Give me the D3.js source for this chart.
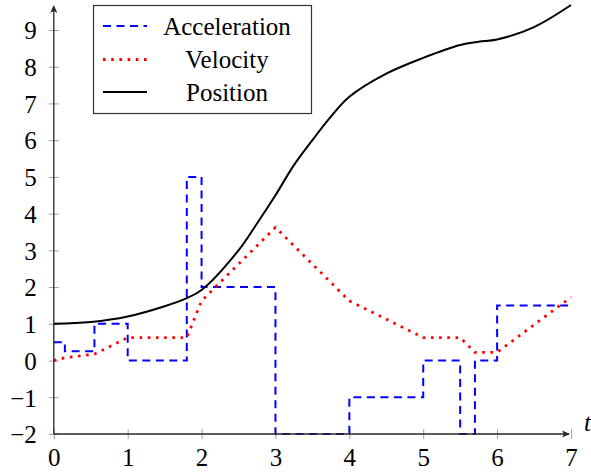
<!DOCTYPE html>
<html>
<head>
<meta charset="utf-8">
<script src="https://cdn.jsdelivr.net/npm/d3@7"></script>
<style>
  body { margin: 0; background: #fff; }
  svg { display: block; }
  svg text { font-family: 'Liberation Serif', 'DejaVu Serif', serif; }
</style>
</head>
<body>
<div class="chart"></div>
<script>
// acceleration: piecewise constant, value holds from t[i] to t[i+1]
const accT = [0, 0.15, 0.55, 1, 1.8, 2, 3, 4, 5, 5.5, 5.7, 6, 7];
const accVal = [0.5, 0.25, 1, 0, 5, 2, -2, -1, 0, -2, 0, 1.5, 1.5];

// velocity: piecewise linear
const velT = [0, 0.15, 0.55, 1, 1.8, 2, 3, 4, 5, 5.5, 5.7, 6, 7];
const velVal = [0, 0.075, 0.175, 0.625, 0.625, 1.625, 3.625, 1.625, 0.625, 0.625, 0.225, 0.225, 1.725];

// position: smooth curve
const posT = [0, 0.5, 1, 1.5, 1.8, 2, 2.5, 2.75, 3, 3.25, 3.5, 3.75, 4, 4.5, 5, 5.5, 5.75, 6, 6.5, 7];
const posVal = [1, 1.05, 1.2, 1.48, 1.7, 1.92, 3.0, 3.73, 4.5, 5.32, 6.0, 6.64, 7.18, 7.81, 8.24, 8.59, 8.68, 8.74, 9.08, 9.68];

const xTicks = [0, 1, 2, 3, 4, 5, 6, 7];
const yTicks = [-2, -1, 0, 1, 2, 3, 4, 5, 6, 7, 8, 9];
const legendLabels = ['Acceleration', 'Velocity', 'Position'];

const svgWidth = 591;
const svgHeight = 472;

const svg = d3.select('.chart')
  .append('svg')
  .attr('width', svgWidth)
  .attr('height', svgHeight);

const x = d3.scaleLinear().domain([0, 7]).range([53.8, 571]);
const y = d3.scaleLinear().domain([-2, 9]).range([434, 30]);

const toPts = (ts, vs) => ts.map((t, i) => ({t: t, v: vs[i]}));

// axes
const tickColor = '#a0a0a0';
const fontSize = 25;

const xAxis = d3.axisBottom(x)
  .tickValues(xTicks)
  .tickSizeInner(5)
  .tickSizeOuter(0)
  .tickPadding(9)
  .tickFormat(d3.format('d'));
const xAxisgroup = svg.append('g')
  .attr('class', 'x-axis')
  .attr('transform', `translate(0,${y(-2)})`)
  .call(xAxis);

const yAxis = d3.axisLeft(y)
  .tickValues(yTicks)
  .tickSizeInner(5)
  .tickSizeOuter(0)
  .tickPadding(12)
  .tickFormat(d => d < 0 ? '\u2212' + Math.abs(d) : String(d));
const yAxisgroup = svg.append('g')
  .attr('class', 'y-axis')
  .attr('transform', `translate(${x(0)},0)`)
  .call(yAxis);

// ticks cross the axis on both sides
xAxisgroup.selectAll('.tick line').attr('y1', -5).attr('y2', 5).attr('stroke', tickColor);
yAxisgroup.selectAll('.tick line').attr('x1', -5).attr('x2', 5).attr('stroke', tickColor);
xAxisgroup.select('.domain').remove();
yAxisgroup.select('.domain').remove();
xAxisgroup.attr('font-family', null).attr('font-size', null);
yAxisgroup.attr('font-family', null).attr('font-size', null);
xAxisgroup.selectAll('text')
  .attr('font-size', fontSize)
  .attr('fill', '#000');
yAxisgroup.selectAll('text')
  .attr('font-size', fontSize)
  .attr('fill', '#000')
  .attr('dy', '0.35em');

// plot lines
const stepLine = d3.line().x(d => x(d.t)).y(d => y(d.v)).curve(d3.curveStepAfter);
const linLine = d3.line().x(d => x(d.t)).y(d => y(d.v));
const smoothLine = d3.line().x(d => x(d.t)).y(d => y(d.v)).curve(d3.curveCatmullRom.alpha(0.5));

svg.append('path')
  .datum(toPts(accT, accVal))
  .attr('fill', 'none')
  .attr('stroke', '#0000ff')
  .attr('stroke-width', 2)
  .attr('stroke-dasharray', '8,5.5')
  .attr('d', stepLine);

svg.append('path')
  .datum(toPts(velT, velVal))
  .attr('fill', 'none')
  .attr('stroke', '#ff0000')
  .attr('stroke-width', 2.8)
  .attr('stroke-dasharray', '2.6,5.6')
  .attr('d', linLine);

svg.append('path')
  .datum(toPts(posT, posVal))
  .attr('fill', 'none')
  .attr('stroke', '#000')
  .attr('stroke-width', 2)
  .attr('d', smoothLine);

// axis lines with arrows
const axisColor = '#262626';
svg.append('line')
  .attr('x1', x(0)).attr('y1', y(-2))
  .attr('x2', x(7) - 2).attr('y2', y(-2))
  .attr('stroke', axisColor).attr('stroke-width', 1.3);
svg.append('line')
  .attr('x1', x(0)).attr('y1', y(-2))
  .attr('x2', x(0)).attr('y2', 8)
  .attr('stroke', axisColor).attr('stroke-width', 1.3);

const arrow = (tx, ty, rot) => svg.append('path')
  .attr('d', 'M0,0 L-8,-3.6 L-6,0 L-8,3.6 Z')
  .attr('fill', axisColor)
  .attr('transform', `translate(${tx},${ty}) rotate(${rot})`);
arrow(x(7) - 1, y(-2), 0);
arrow(x(0), 5, -90);

svg.append('text')
  .attr('x', 584)
  .attr('y', 431)
  .attr('font-size', fontSize)
  .attr('font-style', 'italic')
  .text('t');

// legend
const legend = svg.append('g').attr('class', 'legend');
legend.append('rect')
  .attr('x', 93.5).attr('y', 5.5)
  .attr('width', 218).attr('height', 108)
  .attr('fill', '#fff')
  .attr('stroke', '#333')
  .attr('stroke-width', 1.2);

const legendStyles = [
  {color: '#0000ff', width: 2, dash: '8,5.5'},
  {color: '#ff0000', width: 2.8, dash: '2.6,5.6'},
  {color: '#000', width: 2, dash: null}
];
const rowY = [26, 59.5, 92];

legendLabels.forEach((label, i) => {
  const s = legendStyles[i];
  legend.append('line')
    .attr('x1', 103).attr('x2', 147)
    .attr('y1', rowY[i]).attr('y2', rowY[i])
    .attr('stroke', s.color)
    .attr('stroke-width', s.width)
    .attr('stroke-dasharray', s.dash);
  legend.append('text')
    .attr('x', 227)
    .attr('y', rowY[i])
    .attr('dy', '0.35em')
    .attr('text-anchor', 'middle')
    .attr('font-size', fontSize)
    .text(label);
});
</script>
</body>
</html>
